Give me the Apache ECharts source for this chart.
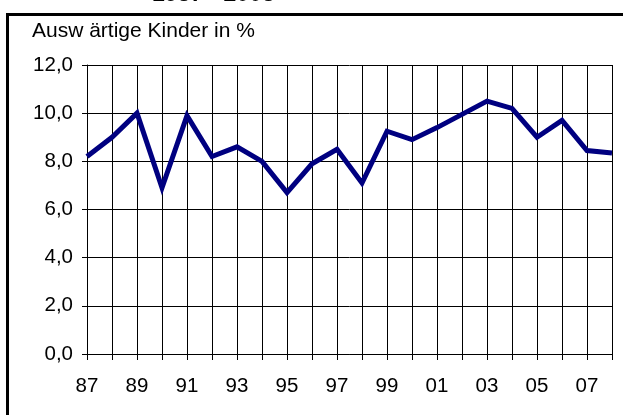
<!DOCTYPE html>
<html>
<head>
<meta charset="utf-8">
<script src="https://cdn.jsdelivr.net/npm/echarts@6/dist/echarts.min.js"></script>
<style>
  html, body { margin: 0; padding: 0; background: #fff; }
  #chart { width: 623px; height: 415px; }
</style>
</head>
<body>
<div id="chart"></div>
<script>
var years = ['87', '88', '89', '90', '91', '92', '93', '94', '95', '96', '97',
    '98', '99', '00', '01', '02', '03', '04', '05', '06', '07', '08'];
var auswaertig = [8.2, 9.0, 10.0, 6.9, 9.9, 8.2, 8.6, 8.0, 6.7, 7.9, 8.5,
    7.1, 9.25, 8.9, 9.4, 9.95, 10.5, 10.2, 9.0, 9.7, 8.45, 8.35];
var yTitle = 'Ausw ärtige Kinder in %';
var topTitle = '1987 - 2008';

var chart = echarts.init(document.getElementById('chart'));
var font = 'Liberation Sans, Arial, sans-serif';

chart.setOption({
    animation: false,
    textStyle: { fontFamily: font },
    grid: { left: 87, right: 11, top: 65, bottom: 61 },
    graphic: [
        {
            type: 'rect',
            shape: { x: 7.5, y: 14.5, width: 700, height: 500 },
            style: { fill: 'none', stroke: '#000', lineWidth: 3 }
        },
        {
            type: 'text',
            x: 152, y: -17,
            style: { text: topTitle, font: 'bold 23px ' + font, fill: '#000' }
        },
        {
            type: 'text',
            x: 32, y: 21,
            style: { text: yTitle, font: '21px ' + font, fill: '#000' }
        }
    ],
    xAxis: {
        type: 'category',
        data: years,
        boundaryGap: false,
        axisLine: { lineStyle: { color: '#000', width: 1 } },
        axisTick: { show: true, interval: 0, length: 6, lineStyle: { color: '#000' } },
        axisLabel: { interval: 1, color: '#000', fontSize: 20.5, margin: 22 },
        splitLine: { show: true, interval: 0, lineStyle: { color: '#000', width: 1 } }
    },
    yAxis: {
        type: 'value',
        min: 0, max: 12, interval: 2,
        axisLine: { show: true, lineStyle: { color: '#000', width: 1 } },
        axisTick: { show: true, length: 5, lineStyle: { color: '#000' } },
        axisLabel: {
            color: '#000', fontSize: 20.5, margin: 14,
            formatter: function (v) { return v.toFixed(1).replace('.', ','); }
        },
        splitLine: { show: true, lineStyle: { color: '#000', width: 1 } }
    },
    series: [{
        type: 'line',
        data: auswaertig,
        symbol: 'none',
        lineStyle: { color: '#000080', width: 5, join: 'miter' }
    }]
});
</script>
</body>
</html>
